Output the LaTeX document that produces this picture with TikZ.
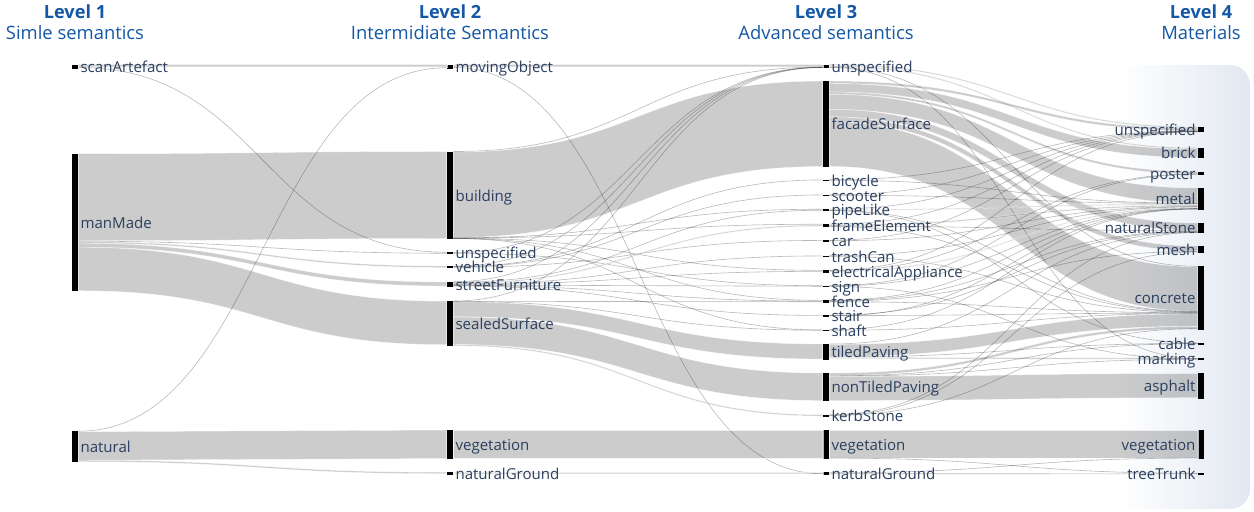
\documentclass[tikz,border=0pt]{standalone}
\usepackage{fontspec}
\setmainfont{Open Sans}
\usetikzlibrary{calc}
\definecolor{hdr}{HTML}{1357A6}
\definecolor{lbl}{HTML}{2A3F5F}
\definecolor{bgb}{HTML}{E2E8F1}
\tikzset{
  nodebar/.style={fill=black, draw=none, inner sep=0pt, minimum width=4.5pt},
  labtext/.style={text=lbl, font=\fontsize{11.3}{13}\selectfont, inner sep=0pt, text height=0.7em, text depth=0.2em},
  hdbold/.style={text=hdr, font=\fontsize{13.6}{16}\selectfont\bfseries},
  hdsub/.style={text=hdr, font=\fontsize{13.8}{16}\selectfont},
  flowband/.style={fill=black, fill opacity=0.2, draw=white, draw opacity=0.7, line width=0.3pt},
  flowwire/.style={draw=black, draw opacity=0.28, line width=0.45pt},
}
\newcommand\bnode[4]{\node[nodebar, minimum height={(#4-#3)*0.75pt}] (#1) at ({#2+3},{(#3+#4)/2}) {};}
\newcommand\labR[2]{\node[labtext, anchor=west] (#1-t) at ([xshift=1.5pt,yshift=-1.9pt]#1.east) {#2};}
\newcommand\labL[2]{\node[labtext, anchor=east] (#1-t) at ([xshift=-1.5pt,yshift=-1.9pt]#1.west) {#2};}
\newcommand\sband[6]{\fill[flowband] let \p1=($(#1.north east)+(0,#2)$), \p2=($(#4.north west)+(0,#5)$),
  \p3=($(#1.north east)+(0,{#2+#3})$), \p4=($(#4.north west)+(0,{#5+#6})$), \p5=($(\p1)!.5!(\p2)$) in
  (\p1) .. controls (\x5,\y1) and (\x5,\y2) .. (\p2) -- (\p4) .. controls (\x5,\y4) and (\x5,\y3) .. (\p3) -- cycle;}
\newcommand\swire[4]{\draw[flowwire] let \p1=($(#1.north east)+(0,#2)$), \p2=($(#3.north west)+(0,#4)$),
  \p5=($(\p1)!.5!(\p2)$) in (\p1) .. controls (\x5,\y1) and (\x5,\y2) .. (\p2);}
\begin{document}
\begin{tikzpicture}[x=0.75pt,y=-0.75pt]
\useasboundingbox (0,0) rectangle (1254,511);
% background panel
\shade[left color=white, right color=bgb, rounded corners=15pt] (1118,65) rectangle (1250,509);
% headers
\node[hdbold] (h1) at (75,12) {Level 1};
\node[hdsub] (s1) at (75,33) {Simle semantics};
\node[hdbold] (h2) at (450,12) {Level 2};
\node[hdsub] (s2) at (450,33) {Intermidiate Semantics};
\node[hdbold] (h3) at (826,12) {Level 3};
\node[hdsub] (s3) at (826,33) {Advanced semantics};
\node[hdbold] (h4) at (1201,12) {Level 4};
\node[hdsub] (s4) at (1201,33) {Materials};
% level 1
\bnode{sa}{72}{64.5}{68.5}
\bnode{mm}{72}{154}{291}
\bnode{nat}{72}{431}{462}
% level 2
\bnode{mo}{447}{64.5}{68.5}
\bnode{bld}{447}{151.5}{239}
\bnode{un2}{447}{252}{254}
\bnode{veh}{447}{266}{268}
\bnode{sf}{447}{281.5}{287}
\bnode{ss}{447}{301}{345.5}
\bnode{veg2}{447}{430}{459}
\bnode{ng2}{447}{472}{474.5}
% level 3
\bnode{un3}{823}{64.5}{68}
\bnode{fac}{823}{81}{167}
\bnode{bic}{823}{179.5}{181}
\bnode{sco}{823}{194.5}{196}
\bnode{pipe}{823}{209}{211}
\bnode{frame}{823}{224}{227}
\bnode{car}{823}{240}{241.5}
\bnode{trash}{823}{255.5}{257}
\bnode{elec}{823}{270}{272.5}
\bnode{sign}{823}{285.5}{287}
\bnode{fence}{823}{300}{302.5}
\bnode{stair}{823}{315}{316.5}
\bnode{shaft}{823}{329.5}{331}
\bnode{tiled}{823}{344}{359.5}
\bnode{nontiled}{823}{373}{401}
\bnode{kerb}{823}{414.5}{416.5}
\bnode{veg3}{823}{430}{459}
\bnode{ng3}{823}{472}{474.5}
% level 4
\bnode{un4}{1198}{127}{132}
\bnode{brick}{1198}{148}{158}
\bnode{poster}{1198}{171.5}{175}
\bnode{metal}{1198}{188}{209.5}
\bnode{stone}{1198}{223}{233}
\bnode{mesh}{1198}{246}{252.5}
\bnode{conc}{1198}{266}{329.5}
\bnode{cable}{1198}{342.5}{344.5}
\bnode{mark}{1198}{358}{360}
\bnode{asph}{1198}{373}{399}
\bnode{veg4}{1198}{430}{459}
\bnode{tree}{1198}{472.5}{474.5}
% ---- flows level 1 -> 2
\sband{sa}{0}{2.5}{mo}{0}{2.5}
\swire{sa}{3.2}{un2}{0.5}
\sband{mm}{0}{87}{bld}{0.3}{87}
\swire{mm}{87.5}{un2}{1.5}
\sband{mm}{88}{1.5}{veh}{0.3}{1.5}
\sband{mm}{89.5}{4}{sf}{0.8}{4}
\sband{mm}{93.5}{43.5}{ss}{0.5}{43.5}
\swire{nat}{0.5}{mo}{3.5}
\sband{nat}{1}{28.5}{veg2}{0.3}{28.5}
\sband{nat}{29.5}{1.5}{ng2}{0.5}{1.5}
% ---- flows level 2 -> 3
\sband{mo}{0}{2.5}{un3}{0}{2.5}
\swire{mo}{3.2}{ng3}{2}
\swire{bld}{0.3}{un3}{2.8}
\sband{bld}{0.8}{85.5}{fac}{0.3}{85.5}
\swire{bld}{86.6}{pipe}{0.5}
\swire{bld}{86.8}{frame}{0.5}
\swire{bld}{87}{elec}{0.6}
\swire{bld}{87.2}{fence}{0.6}
\swire{bld}{87.3}{shaft}{0.7}
\swire{un2}{1}{un3}{3}
\swire{un2}{1.5}{sign}{0.5}
\swire{veh}{0.4}{un3}{3.1}
\swire{veh}{0.8}{bic}{0.7}
\swire{veh}{1.1}{sco}{0.7}
\swire{veh}{1.5}{car}{0.7}
\swire{sf}{0.5}{un3}{3.2}
\swire{sf}{1}{pipe}{1.5}
\sband{sf}{1.5}{1.2}{frame}{1.3}{1.2}
\swire{sf}{2.8}{trash}{0.7}
\swire{sf}{3.2}{elec}{1.6}
\swire{sf}{3.8}{sign}{1}
\swire{sf}{4.3}{fence}{1.4}
\swire{sf}{4.8}{stair}{0.7}
\swire{ss}{0.3}{un3}{3.3}
\swire{ss}{0.6}{fence}{2}
\swire{ss}{0.8}{shaft}{1}
\sband{ss}{1}{15}{tiled}{0.3}{15}
\sband{ss}{16.3}{27.5}{nontiled}{0.3}{27.5}
\sband{ss}{43.8}{1.3}{kerb}{0.5}{1.3}
\sband{veg2}{0.3}{28.5}{veg3}{0.3}{28.5}
\sband{ng2}{0.5}{1.5}{ng3}{0.5}{1.5}
% ---- flows level 3 -> 4
\sband{un3}{0}{1.2}{un4}{0}{1.2}
\sband{un3}{1.3}{1.2}{brick}{0}{1.2}
\swire{un3}{2.7}{conc}{0.6}
\swire{un3}{3.1}{mark}{0.8}
\sband{fac}{0.3}{2.5}{un4}{1.4}{2.5}
\sband{fac}{2.8}{8.5}{brick}{1.3}{8.5}
\sband{fac}{11.3}{2.3}{poster}{0.3}{2.3}
\sband{fac}{13.6}{15}{metal}{0.3}{15}
\sband{fac}{28.6}{7.5}{stone}{0.3}{7.5}
\sband{fac}{36.1}{5}{mesh}{0.3}{5}
\sband{fac}{41.1}{44.6}{conc}{1}{44.6}
\swire{bic}{0.5}{un4}{4.1}
\swire{bic}{1}{metal}{15.5}
\swire{sco}{0.5}{un4}{4.3}
\swire{sco}{1}{metal}{15.8}
\swire{pipe}{0.4}{un4}{4.5}
\sband{pipe}{0.7}{0.9}{metal}{16.2}{0.9}
\swire{pipe}{1.7}{conc}{45.8}
\swire{pipe}{1.9}{cable}{0.6}
\swire{frame}{0.4}{un4}{4.7}
\sband{frame}{0.8}{1.3}{metal}{17.3}{1.3}
\swire{frame}{2.3}{stone}{8}
\swire{frame}{2.7}{conc}{46.2}
\swire{car}{0.5}{un4}{4.9}
\swire{car}{1}{metal}{18.8}
\swire{trash}{0.5}{metal}{19.2}
\swire{trash}{1}{conc}{46.6}
\swire{elec}{0.5}{un4}{5}
\swire{elec}{1}{poster}{2.7}
\sband{elec}{1.3}{1}{metal}{19.6}{1}
\swire{sign}{0.4}{poster}{3.1}
\swire{sign}{0.8}{metal}{20.8}
\swire{sign}{1.2}{mark}{1.2}
\swire{fence}{0.5}{metal}{21}
\swire{fence}{1}{stone}{8.6}
\swire{fence}{1.5}{mesh}{5.7}
\swire{fence}{2}{conc}{47}
\swire{stair}{0.4}{stone}{9}
\swire{stair}{0.8}{conc}{47.4}
\swire{stair}{1.2}{metal}{21.2}
\swire{shaft}{0.5}{metal}{21.3}
\swire{shaft}{1}{conc}{47.8}
\swire{tiled}{0.3}{stone}{9.5}
\sband{tiled}{0.6}{12.3}{conc}{48.2}{12.3}
\swire{tiled}{13.2}{cable}{1.2}
\sband{tiled}{13.6}{1.3}{mark}{0.3}{1.3}
\sband{nontiled}{0.3}{2.6}{conc}{60.6}{2.6}
\swire{nontiled}{3.1}{cable}{1.5}
\swire{nontiled}{3.4}{mark}{1.6}
\sband{nontiled}{3.6}{24.2}{asph}{0.8}{24.2}
\swire{kerb}{0.5}{stone}{9.8}
\swire{kerb}{1}{conc}{63}
\swire{kerb}{1.5}{mesh}{6.2}
\sband{veg3}{0.3}{27.8}{veg4}{0.3}{27.8}
\swire{veg3}{28.4}{tree}{1}
\swire{ng3}{1}{veg4}{28.4}
\swire{ng3}{2}{tree}{1.6}
% ---- labels
\labR{sa}{scanArtefact}
\labR{mm}{manMade}
\labR{nat}{natural}
\labR{mo}{movingObject}
\labR{bld}{building}
\labR{un2}{unspecified}
\labR{veh}{vehicle}
\labR{sf}{streetFurniture}
\labR{ss}{sealedSurface}
\labR{veg2}{vegetation}
\labR{ng2}{naturalGround}
\labR{un3}{unspecified}
\labR{fac}{facadeSurface}
\labR{bic}{bicycle}
\labR{sco}{scooter}
\labR{pipe}{pipeLike}
\labR{frame}{frameElement}
\labR{car}{car}
\labR{trash}{trashCan}
\labR{elec}{electricalAppliance}
\labR{sign}{sign}
\labR{fence}{fence}
\labR{stair}{stair}
\labR{shaft}{shaft}
\labR{tiled}{tiledPaving}
\labR{nontiled}{nonTiledPaving}
\labR{kerb}{kerbStone}
\labR{veg3}{vegetation}
\labR{ng3}{naturalGround}
\labL{un4}{unspecified}
\labL{brick}{brick}
\labL{poster}{poster}
\labL{metal}{metal}
\labL{stone}{naturalStone}
\labL{mesh}{mesh}
\labL{conc}{concrete}
\labL{cable}{cable}
\labL{mark}{marking}
\labL{asph}{asphalt}
\labL{veg4}{vegetation}
\labL{tree}{treeTrunk}
\end{tikzpicture}
\end{document}
